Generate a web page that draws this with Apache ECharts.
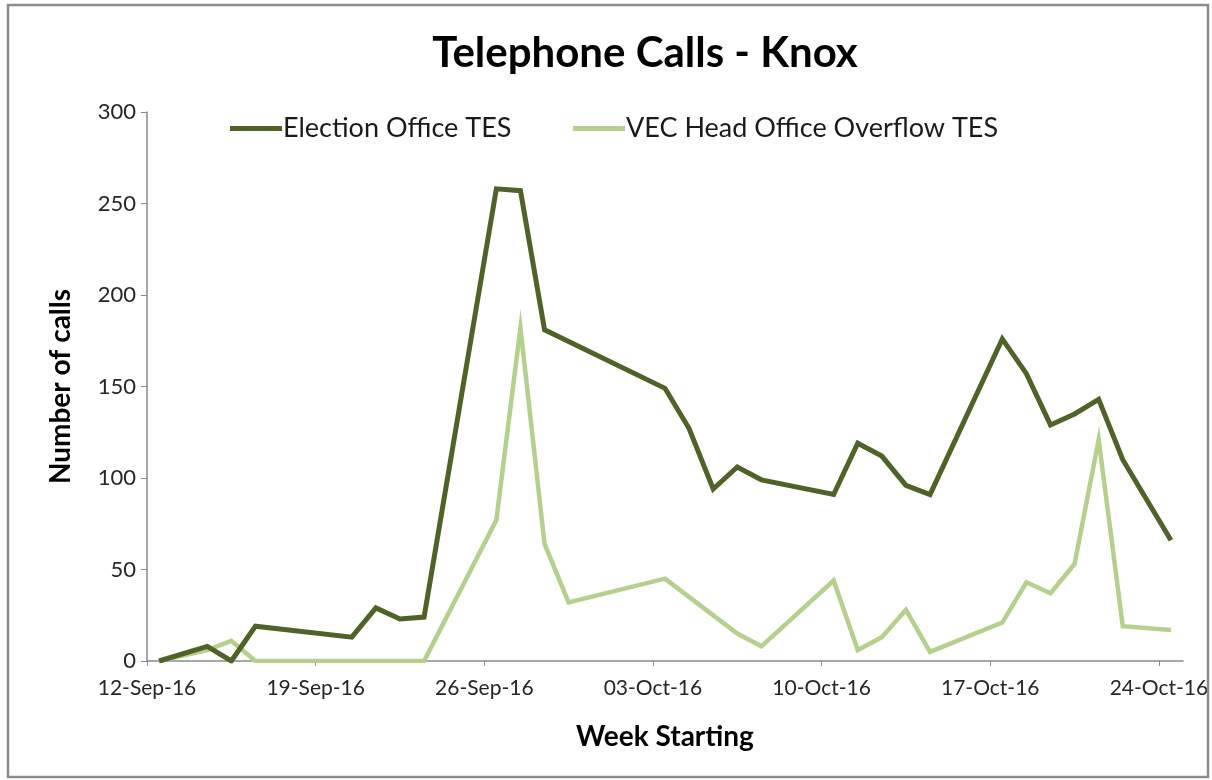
<!DOCTYPE html>
<html>
<head>
<meta charset="utf-8">
<title>Telephone Calls - Knox</title>
<script src="https://cdn.jsdelivr.net/npm/echarts@6/dist/echarts.min.js"></script>
<style>
  html, body { margin: 0; padding: 0; background: #fff; }
  #chart { width: 1212px; height: 780px; }
</style>
</head>
<body>
<div id="chart"></div>
<script>
// daily call counts (null = no point on that day)
const dates = [
  '2016-09-12', '2016-09-14', '2016-09-15', '2016-09-16', '2016-09-20', '2016-09-21',
  '2016-09-22', '2016-09-23', '2016-09-26', '2016-09-27', '2016-09-28', '2016-09-29',
  '2016-10-03', '2016-10-04', '2016-10-05', '2016-10-06', '2016-10-07', '2016-10-10',
  '2016-10-11', '2016-10-12', '2016-10-13', '2016-10-14', '2016-10-17', '2016-10-18',
  '2016-10-19', '2016-10-20', '2016-10-21', '2016-10-22', '2016-10-24'
]
const electionOffice = [
  0, 8, 0, 19, 13, 29,
  23, 24, 258, 257, 181, null,
  149, 127, 94, 106, 99, 91,
  119, 112, 96, 91, 176, 157,
  129, 135, 143, 110, 66
]
const vecOverflow = [
  0, 6, 11, 0, 0, 0,
  0, 0, 77, 182, 64, 32,
  45, null, null, 15, 8, 44,
  6, 13, 28, 5, 21, 43,
  37, 53, 121, 19, 17
]
const weekTicks = ['12-Sep-16', '19-Sep-16', '26-Sep-16', '03-Oct-16', '10-Oct-16', '17-Oct-16', '24-Oct-16']

const DAY = 86400000
const start = Date.UTC(2016, 8, 12)
// Excel date axis puts each day's point in the middle of its day slot
const dayPos = d => (Date.parse(d + 'T00:00:00Z') - start) / DAY + 0.5
const toPairs = vals => dates.map((d, i) => [dayPos(d), vals[i]])

const font = 'Lato, "Open Sans", sans-serif'
const darkGreen = '#4f6228'
const lightGreen = '#b5cf8d'
const tickDays = weekTicks.map((t, i) => i * 7)

const legendText = { fontFamily: font, fontSize: 27, color: '#1a1a1a', padding: [0, 0, 0, -4] }
const axisNameText = { fontFamily: font, fontSize: 28, fontWeight: 'bold', color: '#000' }

const chart = echarts.init(document.getElementById('chart'), null, { renderer: 'canvas' })

const option = {
  backgroundColor: '#fff',
  animation: false,
  title: {
    text: 'Telephone Calls - Knox',
    left: 640,
    top: 27,
    textAlign: 'center',
    textStyle: { fontFamily: font, fontSize: 42, fontWeight: 'bold', color: '#000' }
  },
  legend: [
    {
      data: ['Election Office TES'],
      left: 225,
      top: 110,
      icon: 'rect',
      itemWidth: 52,
      itemHeight: 5,
      textStyle: legendText
    },
    {
      data: ['VEC Head Office Overflow TES'],
      left: 568,
      top: 110,
      icon: 'rect',
      itemWidth: 52,
      itemHeight: 5,
      textStyle: legendText
    }
  ],
  grid: {
    left: 147,
    right: 29,
    top: 112,
    bottom: 119,
    containLabel: false
  },
  xAxis: {
    type: 'value',
    min: 0,
    max: 43,
    name: 'Week Starting',
    nameLocation: 'middle',
    nameGap: 62,
    nameTextStyle: axisNameText,
    axisLine: { lineStyle: { color: '#8a8a8a', width: 1.5 } },
    axisTick: { show: true, customValues: tickDays, length: 5, lineStyle: { color: '#8a8a8a' } },
    axisLabel: {
      customValues: tickDays,
      formatter: v => weekTicks[Math.round(v / 7)],
      fontFamily: font,
      fontSize: 21,
      color: '#262626',
      margin: 17
    },
    splitLine: { show: false }
  },
  yAxis: {
    type: 'value',
    min: 0,
    max: 300,
    interval: 50,
    name: 'Number of calls',
    nameLocation: 'middle',
    nameGap: 72,
    nameRotate: 90,
    nameTextStyle: axisNameText,
    axisLine: { show: true, lineStyle: { color: '#8a8a8a', width: 1.5 } },
    axisTick: { show: true, length: 6, lineStyle: { color: '#8a8a8a' } },
    axisLabel: { fontFamily: font, fontSize: 22, color: '#262626', margin: 11 },
    splitLine: { show: false }
  },
  series: [
    {
      name: 'Election Office TES',
      type: 'line',
      data: toPairs(electionOffice),
      connectNulls: true,
      showSymbol: false,
      symbol: 'none',
      color: darkGreen,
      lineStyle: { color: darkGreen, width: 5, join: 'miter' },
      z: 3
    },
    {
      name: 'VEC Head Office Overflow TES',
      type: 'line',
      data: toPairs(vecOverflow),
      connectNulls: true,
      showSymbol: false,
      symbol: 'none',
      color: lightGreen,
      lineStyle: { color: lightGreen, width: 4.5, join: 'miter' },
      z: 2
    }
  ],
  graphic: [
    {
      type: 'rect',
      shape: { x: 8, y: 5, width: 1200, height: 772 },
      style: { fill: 'none', stroke: '#8c8c8c', lineWidth: 2.5 },
      silent: true,
      z: 10
    }
  ]
}

chart.setOption(option)
</script>
</body>
</html>
